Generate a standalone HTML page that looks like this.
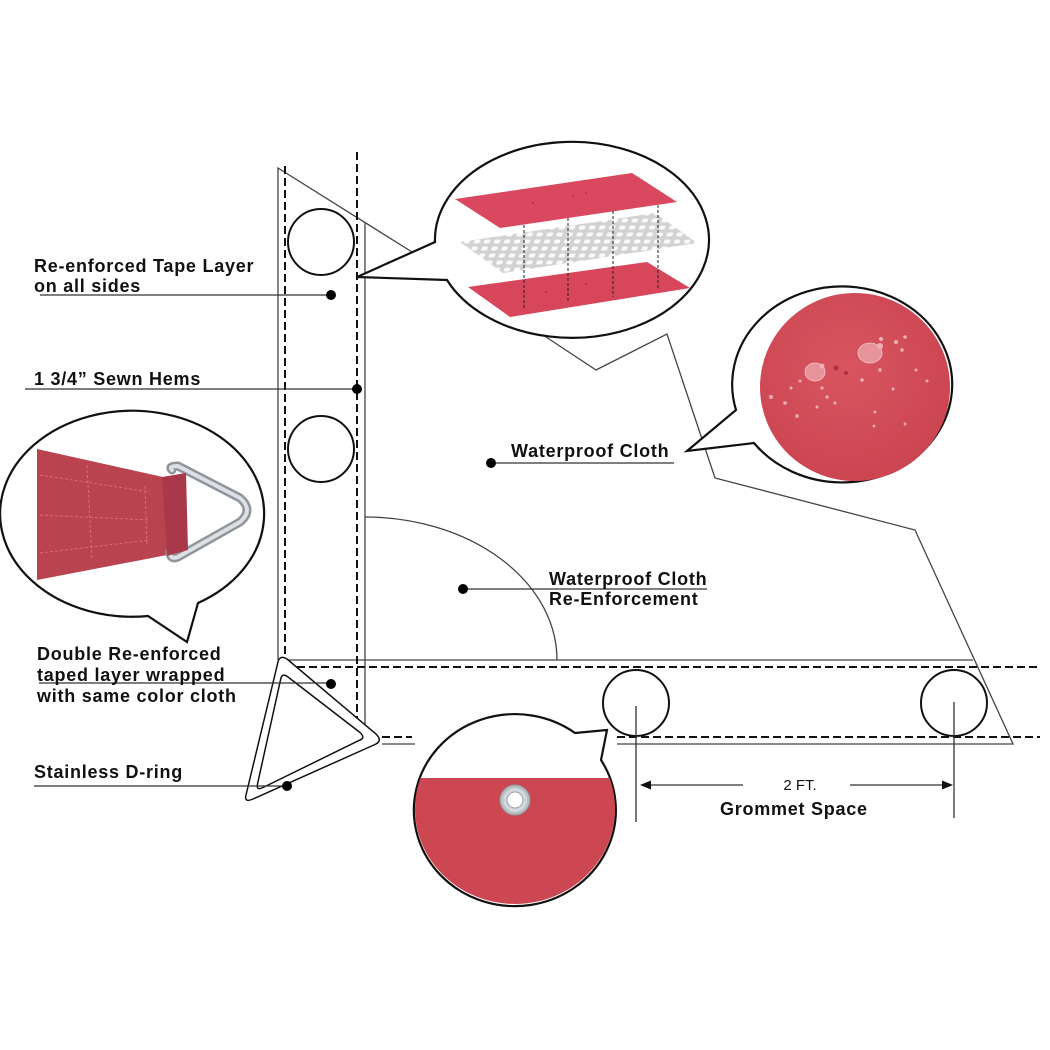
<!DOCTYPE html>
<html>
<head>
<meta charset="utf-8">
<style>
  html, body { margin:0; padding:0; background:#fff; }
  svg { display:block; }
  .lbl { font-family:"Liberation Sans", Arial, sans-serif; font-weight:bold; font-size:18px; letter-spacing:0.75px; fill:#111; }
  .thin { stroke:#444; stroke-width:1.3; fill:none; }
  .dash { stroke:#111; stroke-width:2; stroke-dasharray:8 4; fill:none; }
  .lead { stroke:#333; stroke-width:1.3; fill:none; }
  .ring { stroke:#111; stroke-width:2; fill:none; }
  .bub { stroke:#111; stroke-width:2.2; fill:#fff; stroke-linejoin:miter; }
</style>
</head>
<body>
<svg width="1050" height="1050" viewBox="0 0 1050 1050" xmlns="http://www.w3.org/2000/svg">
  <defs>
    <pattern id="mesh" width="10" height="7" patternUnits="userSpaceOnUse" patternTransform="skewX(-20)">
      <rect width="10" height="7" fill="#d2d2d2"/>
      <rect x="2" y="1.5" width="6" height="4" rx="1.5" fill="#fafafa"/>
    </pattern>
    <clipPath id="botclip"><ellipse cx="515" cy="809" rx="100" ry="95"/></clipPath>
    <radialGradient id="rg" cx="0.45" cy="0.4" r="0.7">
      <stop offset="0" stop-color="#d85560"/>
      <stop offset="1" stop-color="#c9434f"/>
    </radialGradient>
  </defs>
  <rect width="1050" height="1050" fill="#fff"/>

  <!-- outline shape -->
  <polyline class="thin" points="278,660 278,168 412,252"/>
  <line class="thin" x1="365" y1="223" x2="365" y2="735"/>
  <polyline class="thin" points="546,337 596,370 667,334 715,478 915,530 1013,744 617,744"/>
  <line class="thin" x1="382" y1="744" x2="415" y2="744"/>
  <line class="thin" x1="288" y1="660" x2="973" y2="660"/>
  <path class="thin" d="M365,517 A192,143 0 0 1 557,660"/>

  <!-- dashed hems -->
  <line class="dash" x1="285" y1="166" x2="285" y2="666"/>
  <line class="dash" x1="357" y1="152" x2="357" y2="731"/>
  <line class="dash" x1="285" y1="667" x2="1040" y2="667"/>
  <line class="dash" x1="382" y1="737" x2="412" y2="737"/>
  <line class="dash" x1="617" y1="737" x2="1040" y2="737"/>

  <!-- grommet circles -->
  <circle class="ring" cx="321" cy="242" r="33"/>
  <circle class="ring" cx="321" cy="449" r="33"/>
  <circle class="ring" cx="636" cy="703" r="33"/>
  <circle class="ring" cx="954" cy="703" r="33"/>

  <!-- D-ring -->
  <path d="M277.5,664 Q279,654 287,659 L376,734 Q383,741 375,744.5 L253,799 Q244,803 246,795 Z" fill="#fff" stroke="#111" stroke-width="1.5"/>
  <path d="M280.5,680 Q282,672 288,677 L360,732.5 Q366,738 359,740.5 L263,787.5 Q256,791 257.5,784 Z" fill="none" stroke="#111" stroke-width="1.5"/>

  <!-- leader lines -->
  <line class="lead" x1="40" y1="295" x2="331" y2="295"/>
  <line class="lead" x1="25" y1="389" x2="357" y2="389"/>
  <line class="lead" x1="39" y1="683" x2="331" y2="683"/>
  <line class="lead" x1="34" y1="786" x2="287" y2="786"/>
  <line class="lead" x1="491" y1="463" x2="674" y2="463"/>
  <line class="lead" x1="463" y1="589" x2="707" y2="589"/>

  <g fill="#000">
    <circle cx="331" cy="295" r="5"/>
    <circle cx="357" cy="389" r="5"/>
    <circle cx="331" cy="684" r="5"/>
    <circle cx="287" cy="786" r="5"/>
    <circle cx="491" cy="463" r="5"/>
    <circle cx="463" cy="589" r="5"/>
  </g>

  <!-- dimension -->
  <line class="lead" x1="636" y1="706" x2="636" y2="822"/>
  <line class="lead" x1="954" y1="702" x2="954" y2="818"/>
  <line class="lead" x1="648" y1="785" x2="743" y2="785"/>
  <line class="lead" x1="850" y1="785" x2="945" y2="785"/>
  <polygon points="640,785 651,780.5 651,789.5" fill="#111"/>
  <polygon points="953,785 942,780.5 942,789.5" fill="#111"/>
  <text x="800" y="790" text-anchor="middle" font-family="Liberation Sans, Arial, sans-serif" font-size="15" fill="#111">2 FT.</text>

  <!-- TOP BUBBLE -->
  <path class="bub" d="M447,280 A137,98 0 1 0 435,242 L357,277 Z"/>
  <polygon points="455,199 632,173 677,202 500,228" fill="#d9485e"/>
  <polygon points="460,242 655,213 697,243 503,273" fill="url(#mesh)"/>
  <polygon points="468,287 647,262 690,288 510,317" fill="#d8465c"/>
  <g stroke="#222" stroke-width="1" stroke-dasharray="3 2">
    <line x1="524" y1="225" x2="524" y2="310"/>
    <line x1="568" y1="218" x2="568" y2="303"/>
    <line x1="613" y1="211" x2="613" y2="297"/>
    <line x1="658" y1="205" x2="658" y2="290"/>
  </g>
  <g fill="#a8283a" opacity="0.6">
    <circle cx="533" cy="203" r="1.2"/><circle cx="573" cy="196" r="1.2"/><circle cx="586" cy="193" r="1"/>
    <circle cx="546" cy="292" r="1.2"/><circle cx="586" cy="284" r="1.2"/>
  </g>

  <!-- RIGHT BUBBLE -->
  <path class="bub" d="M754,443 A110,98 0 1 0 736,410 L687,451 Z"/>
  <ellipse cx="855" cy="387" rx="95" ry="94" fill="url(#rg)"/>
  <g fill="#e7939a" stroke="#f3c4c8" stroke-width="0.8">
    <ellipse cx="870" cy="353" rx="12" ry="10"/>
    <ellipse cx="815" cy="372" rx="10" ry="9"/>
  </g>
  <g fill="#eeb0b5">
    <circle cx="880" cy="346" r="3"/><circle cx="822" cy="366" r="2.5"/>
    <circle cx="881" cy="339" r="2"/><circle cx="896" cy="342" r="2"/><circle cx="902" cy="350" r="1.8"/>
    <circle cx="905" cy="337" r="1.8"/><circle cx="880" cy="370" r="1.8"/><circle cx="862" cy="380" r="1.8"/>
    <circle cx="771" cy="397" r="2"/><circle cx="785" cy="403" r="1.8"/><circle cx="791" cy="388" r="1.5"/>
    <circle cx="797" cy="416" r="1.8"/><circle cx="822" cy="388" r="1.6"/><circle cx="827" cy="397" r="1.6"/>
    <circle cx="835" cy="403" r="1.5"/><circle cx="817" cy="407" r="1.5"/><circle cx="800" cy="381" r="1.5"/>
    <circle cx="893" cy="389" r="1.5"/><circle cx="916" cy="370" r="1.5"/><circle cx="927" cy="381" r="1.5"/>
    <circle cx="875" cy="412" r="1.4"/><circle cx="874" cy="426" r="1.4"/><circle cx="905" cy="424" r="1.4"/>
  </g>
  <g fill="#b52d3d"><circle cx="836" cy="368" r="2.5"/><circle cx="846" cy="373" r="2"/></g>

  <!-- LEFT BUBBLE -->
  <path class="bub" d="M198,603 A132,103 0 1 0 148,616 L187,642 Z"/>
  <polygon points="37,449 163,477 167,555 37,580" fill="#b9434f"/>
  <g stroke="#e0707e" stroke-width="1" stroke-dasharray="3 2" fill="none" opacity="0.9">
    <path d="M40,475 L150,492"/>
    <path d="M40,515 L150,520"/>
    <path d="M40,553 L150,540"/>
    <path d="M87,465 L92,560"/>
    <path d="M145,486 L147,545"/>
  </g>
  <path d="M172,470 Q168,466 178,466 L240,498 Q254,510 240,522 L178,557 Q170,560 170,552" fill="none" stroke="#8f959b" stroke-width="9" stroke-linejoin="round" stroke-linecap="round"/>
  <path d="M172,470 Q168,466 178,466 L240,498 Q254,510 240,522 L178,557 Q170,560 170,552" fill="none" stroke="#dde1e5" stroke-width="4" stroke-linejoin="round" stroke-linecap="round"/>
  <polygon points="162,477 186,473 188,550 167,556" fill="#a9394a"/>

  <!-- BOTTOM BUBBLE -->
  <path class="bub" d="M575,733 L607,730 L601,760 A101,96 0 1 1 575,733 Z"/>
  <g clip-path="url(#botclip)">
    <rect x="410" y="778" width="210" height="140" fill="#cd4753"/>
  </g>
  <circle cx="515" cy="800" r="15" fill="#b8bec4" stroke="#8d949a" stroke-width="1"/>
  <circle cx="515" cy="800" r="12" fill="#d2d7db"/>
  <circle cx="515" cy="800" r="8" fill="#fff" stroke="#9aa0a6" stroke-width="1"/>

  <!-- Labels -->
  <text class="lbl" x="34" y="272">Re-enforced Tape Layer</text>
  <text class="lbl" x="34" y="292">on all sides</text>
  <text class="lbl" x="34" y="385">1 3/4” Sewn Hems</text>
  <text class="lbl" x="37" y="660">Double Re-enforced</text>
  <text class="lbl" x="37" y="681">taped layer wrapped</text>
  <text class="lbl" x="37" y="702">with same color cloth</text>
  <text class="lbl" x="34" y="778">Stainless D-ring</text>
  <text class="lbl" x="511" y="457">Waterproof Cloth</text>
  <text class="lbl" x="549" y="585">Waterproof Cloth</text>
  <text class="lbl" x="549" y="605">Re-Enforcement</text>
  <text class="lbl" x="720" y="815">Grommet Space</text>
</svg>
</body>
</html>
